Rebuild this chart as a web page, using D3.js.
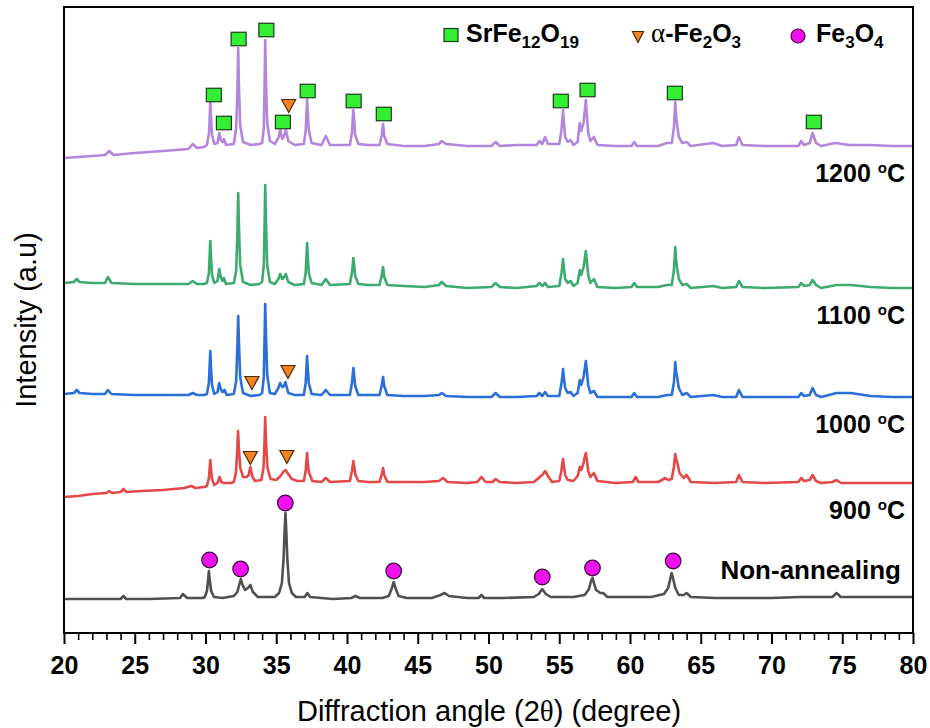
<!DOCTYPE html>
<html>
<head>
<meta charset="utf-8">
<script src="https://cdn.jsdelivr.net/npm/d3@7"></script>
<style>
  body { margin: 0; background: #fff; }
  svg { display: block; }
  text { font-family: "Liberation Sans", Arial, sans-serif; fill: #000; }
</style>
</head>
<body>
<svg id="chart" width="930" height="728"></svg>
<script>
// XRD patterns, [2θ (deg), stacked intensity (a.u.)]
const pattern1200 = [[20,475],[21,476],[22,477],[22.9,478],[23.2,482],[23.5,478],[25,480],[27,482],[28.8,484],[29.1,489],[29.4,485],[29.9,486],
  [30.1,488],[30.25,500],[30.31,520],[30.34,531],[30.38,518],[30.46,498],[30.62,489],
  [30.85,490],[30.97,500],[31.08,493],[31.2,491],[31.3,494],[31.45,488],
  [32.0,489],[32.17,505],[32.26,545],[32.31,585],[32.36,548],[32.45,508],[32.65,491],[33.2,488],[33.8,489],
  [34.0,490],[34.12,505],[34.18,550],[34.22,593],[34.27,553],[34.36,510],[34.55,492],
  [34.9,489],[35.15,495],[35.28,503],[35.42,494],[35.55,497],[35.68,503],[35.85,492],[36.3,488],
  [36.95,489],[37.08,502],[37.14,520],[37.18,534],[37.22,522],[37.3,503],[37.5,490],
  [38.2,488],[38.5,497],[38.8,488],
  [40.2,488],[40.35,500],[40.41,515],[40.45,523],[40.5,514],[40.58,498],[40.8,489],[41.5,488],
  [42.3,488],[42.46,498],[42.55,509],[42.63,497],[42.85,489],
  [44,487],[45.5,487],[46.5,489],[46.7,492],[47.0,489],[48.5,487],[50.2,487],[50.5,491],[50.8,487],[52,488],
  [53.4,488],[53.6,492],[53.8,489],[54.0,496],[54.2,489],
  [55.0,489],[55.16,503],[55.23,515],[55.27,523],[55.32,512],[55.42,496],[55.6,491],[55.8,493],[56.0,488],
  [56.3,491],[56.45,510],[56.55,502],[56.72,510],[56.8,522],[56.88,533],[56.95,518],[57.05,500],[57.2,492],[57.45,496],[57.7,488],
  [59,487],[60.1,487],[60.3,491],[60.5,487],[62,487],[62.6,490],
  [62.95,490],[63.1,505],[63.16,520],[63.2,531],[63.25,518],[63.33,508],[63.45,496],[63.7,490],[64.0,491],[64.3,487],
  [65.9,490],[66.5,487],[67.5,488],[67.7,496],[67.95,488],[69.5,487],[71.9,487],[72.1,492],[72.3,488],
  [72.7,490],[72.9,500],[73.15,490],[73.5,487],[74.5,490],[75.5,488],[77,488],[78.5,487],[80,487]];

const pattern1100 = [[20,350],[20.7,351],[20.9,354],[21.1,351],[22,350],[22.9,350],[23.1,356],[23.35,350],[25,349],[27,349],[28.8,349],[29.1,352],[29.4,349],[29.9,349],
  [30.1,350],[30.24,360],[30.3,380],[30.34,392],[30.38,379],[30.46,358],[30.62,350],
  [30.85,352],[30.97,364],[31.08,356],[31.2,352],[31.3,355],[31.45,349],
  [32.0,350],[32.17,362],[32.26,405],[32.31,440],[32.36,408],[32.45,368],[32.65,351],[33.2,348],[33.8,349],
  [34.0,351],[34.12,368],[34.18,410],[34.22,448],[34.27,412],[34.36,368],[34.55,351],
  [34.9,349],[35.15,354],[35.28,359],[35.42,354],[35.55,356],[35.68,359],[35.85,351],[36.3,348],
  [36.95,349],[37.08,360],[37.14,378],[37.18,390],[37.22,378],[37.3,360],[37.5,350],
  [38.2,348],[38.5,354],[38.8,348],
  [40.2,349],[40.35,360],[40.41,369],[40.45,375],[40.5,368],[40.58,357],[40.8,349],[41.5,348],
  [42.3,348],[42.46,358],[42.55,366],[42.63,356],[42.85,348],
  [44,347],[45.5,346],[46.5,348],[46.7,351],[47.0,347],[48.5,345],[50.2,346],[50.5,350],[50.8,346],[52,345],
  [53.4,347],[53.6,350],[53.8,347],[54.0,350],[54.2,346],
  [55.0,347],[55.16,360],[55.23,368],[55.27,374],[55.32,366],[55.42,354],[55.6,350],[55.8,352],[56.0,347],
  [56.3,350],[56.45,363],[56.55,358],[56.72,366],[56.8,374],[56.88,382],[56.95,372],[57.05,358],[57.2,350],[57.45,354],[57.7,346],
  [59,345],[60.1,346],[60.3,350],[60.5,346],[62,346],[62.6,348],
  [62.95,348],[63.1,362],[63.16,376],[63.2,386],[63.25,374],[63.33,365],[63.45,354],[63.7,348],[64.0,349],[64.3,345],
  [65.9,347],[66.5,345],[67.5,346],[67.7,352],[67.95,346],[69.5,345],[71.9,346],[72.1,350],[72.3,347],
  [72.7,348],[72.9,353],[73.15,348],[73.5,345],[74.6,348],[75.6,348],[77,346],[78.5,345],[80,345]];

const pattern1000 = [[20,239],[20.7,240],[20.9,243],[21.1,240],[22,239],[22.9,239],[23.1,243],[23.35,239],[25,238],[27,238],[28.8,238],[29.1,240],[29.4,238],[29.9,238],
  [30.1,239],[30.24,250],[30.3,270],[30.34,282],[30.38,268],[30.46,248],[30.62,239],
  [30.85,241],[30.97,250],[31.08,244],[31.2,241],[31.35,243],[31.5,238],
  [32.0,239],[32.17,252],[32.26,290],[32.31,317],[32.36,292],[32.45,256],[32.65,240],[33.2,237],[33.8,238],
  [34.0,240],[34.12,256],[34.18,298],[34.22,329],[34.27,300],[34.36,258],[34.55,240],
  [34.9,239],[35.15,245],[35.28,250],[35.42,246],[35.55,247],[35.65,251],[35.85,240],[36.3,238],
  [36.95,238],[37.08,250],[37.14,266],[37.18,277],[37.22,266],[37.3,250],[37.5,239],
  [38.2,238],[38.5,243],[38.8,238],
  [40.2,238],[40.35,250],[40.41,259],[40.45,265],[40.5,258],[40.58,247],[40.8,238],[41.5,238],
  [42.3,238],[42.46,248],[42.55,256],[42.63,247],[42.85,238],
  [44,237],[45.5,237],[46.5,238],[46.7,240],[47.0,237],[48.5,236],[50.2,236],[50.5,240],[50.8,236],[52,236],
  [53.4,237],[53.6,240],[53.8,237],[54.0,241],[54.2,237],
  [55.0,237],[55.16,250],[55.23,258],[55.27,264],[55.32,256],[55.42,245],[55.6,240],[55.8,241],[56.0,237],
  [56.3,240],[56.45,253],[56.55,248],[56.72,256],[56.8,264],[56.88,272],[56.95,262],[57.05,248],[57.2,240],[57.45,242],[57.7,236],
  [59,236],[60.1,236],[60.3,240],[60.5,236],[62,236],[62.6,238],
  [62.95,238],[63.1,250],[63.16,262],[63.2,271],[63.25,262],[63.33,256],[63.45,245],[63.7,238],[64.0,240],[64.3,236],
  [65.9,238],[66.5,236],[67.5,236],[67.7,243],[67.95,236],[69.5,236],[71.9,236],[72.1,240],[72.3,237],
  [72.7,238],[72.9,245],[73.15,238],[73.5,236],[74.6,240],[75.6,240],[77,237],[78.5,236],[80,236]];

const pattern900 = [[20,136],[21,137],[22,139],[23,140],[23.2,142],[23.4,140],[24.0,141],[24.2,144],[24.4,141],[25.5,142],[27,143],[28.5,145],[29.0,147],[29.3,145],[29.9,146],
  [30.1,147],[30.24,155],[30.3,166],[30.34,173],[30.38,165],[30.46,154],[30.62,148],
  [30.85,150],[31.0,156],[31.12,151],[31.3,150],[31.8,150],
  [32.0,151],[32.15,160],[32.24,182],[32.3,202],[32.36,184],[32.46,165],[32.65,156],[32.9,156],
  [33.05,158],[33.17,166],[33.3,157],[33.5,152],
  [33.95,153],[34.1,165],[34.17,190],[34.22,216],[34.28,190],[34.38,165],[34.6,154],
  [35.0,153],[35.3,157],[35.55,162],[35.65,163],[35.8,160],[36.1,154],[36.5,152],
  [36.95,152],[37.08,162],[37.14,173],[37.18,180],[37.22,172],[37.3,161],[37.55,152],
  [38.2,151],[38.5,155],[38.8,151],
  [40.2,152],[40.35,162],[40.41,168],[40.45,172],[40.5,167],[40.6,158],[40.8,152],[41.5,151],
  [42.3,151],[42.46,159],[42.55,165],[42.63,158],[42.85,151],
  [44,151],[45.5,151],[46.5,152],[46.8,155],[47.1,151],[48.5,150],[49.2,151],[49.5,156],[49.8,151],[50.3,151],[50.5,154],[50.8,151],[52,150],
  [53.2,151],[53.8,158],[54.0,162],[54.2,157],[54.5,151],
  [55.0,152],[55.15,162],[55.22,170],[55.27,174],[55.32,168],[55.42,158],[55.6,153],[56.0,152],
  [56.3,157],[56.45,166],[56.55,163],[56.72,170],[56.8,176],[56.88,180],[56.95,173],[57.05,162],[57.2,156],[57.45,160],[57.7,152],
  [59,150],[60.2,151],[60.4,156],[60.6,151],[62,151],[62.5,155],[62.7,153],
  [62.95,154],[63.1,166],[63.16,174],[63.2,179],[63.25,174],[63.35,170],[63.5,160],[63.8,155],[64.0,158],[64.3,151],
  [66,150],[67.5,151],[67.7,158],[67.95,151],[69.5,150],[71.9,151],[72.1,155],[72.3,152],
  [72.7,153],[72.9,158],[73.15,152],[73.5,150],[74.3,151],[74.6,153],[74.9,150],[77,150],[78.5,150],[80,150]];

const patternAsMade = [[20,34],[22,34],[24.0,34],[24.2,37],[24.4,34],[26,34],[28.2,35],[28.4,39],[28.7,35],[29.8,35],
  [29.95,36],[30.1,42],[30.18,52],[30.24,62],[30.3,53],[30.4,42],[30.6,36],
  [31.2,35],[32.0,37],
  [32.25,41],[32.4,49],[32.5,54],[32.62,48],[32.8,43],[33.0,45],[33.17,48],[33.35,41],[33.7,36],
  [34.9,36],[35.2,40],[35.4,50],[35.52,75],[35.6,105],[35.65,120],[35.7,105],[35.78,75],[35.9,50],[36.1,40],[36.4,36],
  [37.0,36],[37.2,40],[37.4,36],[39,34],[40.3,35],[40.6,37],[40.9,35],[42.5,35],
  [42.95,37],[43.15,44],[43.3,51],[43.45,44],[43.65,37],[44.2,35],
  [46,35],[46.6,38],[46.9,40],[47.2,37],[48.5,35],[49.3,35],[49.5,38],[49.7,35],[51,35],[53.2,36],
  [53.55,39],[53.8,44],[54.05,39],[54.4,36],
  [56.0,36],[56.8,38],
  [57.1,44],[57.25,52],[57.35,55],[57.45,50],[57.6,43],[57.9,40],[58.1,40],[58.4,36],
  [60,36],[61.5,36],[62.4,39],
  [62.7,45],[62.86,55],[62.94,60],[63.02,56],[63.2,45],[63.45,38],[63.8,38],[64.0,40],[64.3,36],
  [66,35],[68,35],[70,35],[72,36],[74.3,36],[74.6,40],[74.9,36],[77,36],[80,36]];

// Phase markers, [2θ, level]
const srFe12O19Marks = [[30.59,538],[31.30,510],[32.34,594],[34.30,603],[35.47,511],[37.22,542],
  [40.47,532],[42.6,519],[55.11,532],[57.0,543],[63.17,540],[72.99,511]];
const hematiteMarks = [[35.88,527],[33.28,250],[35.83,261],[33.17,175],[35.75,176]];
const magnetiteMarks = [[30.29,73],[32.48,64],[35.64,130],[43.3,62],[53.8,56],[57.35,65],[63.05,72]];

// Sample labels and the level each sits at
const sampleLabels = ["Non-annealing", "900", "1000", "1100", "1200"];
const sampleLabelLevels = [63, 123, 209, 318, 460];
const sampleColors = ["#505050", "#e44848", "#2b6fd8", "#3daa6f", "#b286dc"];
const patterns = [patternAsMade, pattern900, pattern1000, pattern1100, pattern1200];

const xTicks = [20, 25, 30, 35, 40, 45, 50, 55, 60, 65, 70, 75, 80];

const svg = d3.select("#chart");
const plotLeft = 64, plotRight = 913, plotTop = 7, plotBottom = 633;

const x = d3.scaleLinear().domain([20, 80]).range([plotLeft, plotRight]);
const y = d3.scaleLinear().domain([0, 626]).range([plotBottom, plotTop]);

// Curves
const line = d3.line().x(d => x(d[0])).y(d => y(d[1]));
svg.append("g").selectAll("path").data(patterns).join("path")
  .attr("d", line)
  .attr("fill", "none")
  .attr("stroke", (d, i) => sampleColors[i])
  .attr("stroke-width", 2.6)
  .attr("stroke-linejoin", "round");

// Frame
svg.append("rect")
  .attr("x", plotLeft).attr("y", plotTop)
  .attr("width", plotRight - plotLeft).attr("height", plotBottom - plotTop)
  .attr("fill", "none").attr("stroke", "#000").attr("stroke-width", 2);

// Minor ticks
const minor = d3.range(20, 81, 1).filter(v => v % 5 !== 0);
svg.append("g")
  .attr("transform", `translate(0,${plotBottom})`)
  .call(d3.axisBottom(x).tickValues(minor).tickSize(7).tickFormat(""))
  .call(g => g.select(".domain").remove())
  .call(g => g.selectAll("line").attr("stroke-width", 1.6));

// Major ticks
svg.append("g")
  .attr("transform", `translate(0,${plotBottom})`)
  .call(d3.axisBottom(x).tickValues(xTicks).tickSize(11).tickPadding(12).tickFormat(d3.format("d")))
  .call(g => g.select(".domain").remove())
  .call(g => g.selectAll("line").attr("stroke-width", 2))
  .call(g => g.selectAll("text")
    .style("font-family", '"Liberation Sans", Arial, sans-serif')
    .style("font-size", "25px").style("font-weight", "bold").attr("fill", "#000"));

// Axis titles
const xTitle = svg.append("text")
  .attr("x", 489).attr("y", 721)
  .attr("text-anchor", "middle").style("font-size", "29px");
xTitle.append("tspan").text("Diffraction angle (2");
xTitle.append("tspan").style("font-family", '"Liberation Serif", serif').text("θ");
xTitle.append("tspan").text(") (degree)");

svg.append("text")
  .attr("transform", `translate(36,${(plotTop + plotBottom) / 2}) rotate(-90)`)
  .attr("text-anchor", "middle").style("font-size", "29px")
  .text("Intensity (a.u)");

// Marker shapes
function square(g, cx, cy, w, h) {
  g.append("rect").attr("x", cx - w / 2).attr("y", cy - h / 2).attr("width", w).attr("height", h)
    .attr("fill", "#33ee33").attr("stroke", "#1d3b1d").attr("stroke-width", 1.2);
}
function triangle(g, cx, cy, w, h) {
  g.append("path")
    .attr("d", `M${cx - w / 2},${cy - h / 2}L${cx + w / 2},${cy - h / 2}L${cx},${cy + h / 2}Z`)
    .attr("fill", "#f5831f").attr("stroke", "#4a2a08").attr("stroke-width", 1.2);
}
function circle(g, cx, cy, r) {
  g.append("circle").attr("cx", cx).attr("cy", cy).attr("r", r)
    .attr("fill", "#ee11ee").attr("stroke", "#3f063f").attr("stroke-width", 1.2);
}

const marks = svg.append("g");
srFe12O19Marks.forEach(d => square(marks, x(d[0]), y(d[1]), 15, 13.5));
hematiteMarks.forEach(d => triangle(marks, x(d[0]), y(d[1]), 14, 13));
magnetiteMarks.forEach(d => circle(marks, x(d[0]), y(d[1]), 7.8));

// Sample labels
const labels = svg.append("g");
sampleLabels.forEach((name, i) => {
  const isTemp = name !== "Non-annealing";
  const t = labels.append("text")
    .attr("x", isTemp ? 905 : 901).attr("y", y(sampleLabelLevels[i])).attr("dy", "0.36em")
    .attr("text-anchor", "end")
    .style("font-size", isTemp ? "25px" : "26px").style("font-weight", "bold");
  if (!isTemp) {
    t.text(name);
  } else {
    t.append("tspan").text(name + " ");
    t.append("tspan").attr("dy", -9).style("font-size", "15px").text("o");
    t.append("tspan").attr("dy", 9).text("C");
  }
});

// Legend
const legend = svg.append("g");
function chem(g, xPos, parts) {
  const t = g.append("text").attr("x", xPos).attr("y", 42)
    .style("font-size", "25px").style("font-weight", "bold");
  let shifted = false;
  parts.forEach(p => {
    const sp = t.append("tspan").text(p.s);
    if (p.sub && !shifted) { sp.attr("dy", 6); shifted = true; }
    else if (!p.sub && shifted) { sp.attr("dy", -6); shifted = false; }
    if (p.sub) sp.style("font-size", "17px");
    if (p.serif) sp.style("font-family", '"Liberation Serif", serif').style("font-weight", "normal").style("font-size", "27px");
  });
}
square(legend, 451, 35, 14, 13);
chem(legend, 466, [{s: "SrFe"}, {s: "12", sub: true}, {s: "O"}, {s: "19", sub: true}]);
triangle(legend, 638, 37, 11, 11);
chem(legend, 651, [{s: "α", serif: true}, {s: "-Fe"}, {s: "2", sub: true}, {s: "O"}, {s: "3", sub: true}]);
circle(legend, 798, 36, 7);
chem(legend, 816, [{s: "Fe"}, {s: "3", sub: true}, {s: "O"}, {s: "4", sub: true}]);
</script>
</body>
</html>
